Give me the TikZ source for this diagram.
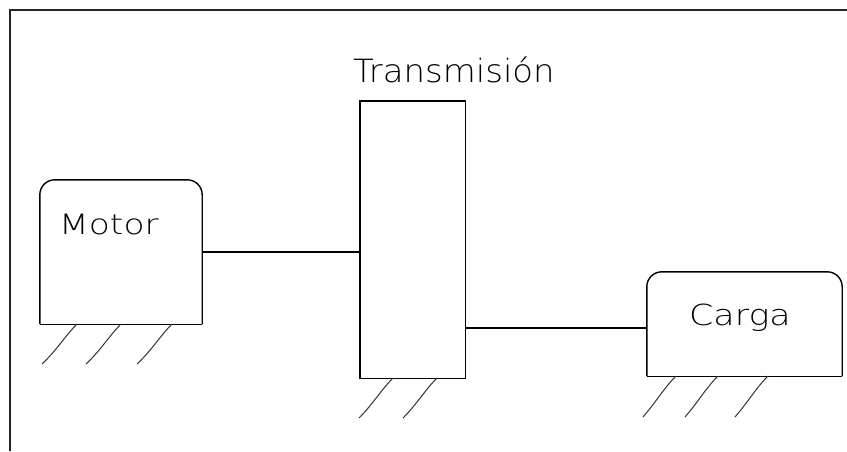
\documentclass[tikz,border=0pt]{standalone}
\usepackage{fontspec}
\setmainfont{DejaVu Sans}[UprightFont={* ExtraLight}]
\usetikzlibrary{calc}
\tikzset{
  frameline/.style={line width=1.2pt, draw=black!85},
  boxline/.style={line width=1.4pt, draw=black},
  hatch/.style={line width=1pt, draw=black!80},
  wire/.style={line width=1.3pt, draw=black},
  holder/.style={draw=none, rectangle, inner sep=0pt},
  lbl/.style={inner sep=0pt, anchor=base west, text=black}
}
\begin{document}
\begin{tikzpicture}[x=1pt, y=-1pt]
\useasboundingbox (0,0) rectangle (847,451);
% frame
\coordinate (ftr) at (847,10);
\coordinate (ftl) at (10,10);
\coordinate (fbl) at (10,451);
\draw[frameline] (ftr) -- (ftl) -- (fbl);
% boxes (invisible holders)
\node[holder, minimum width=162pt, minimum height=144pt] (motor) at (121,252) {};
\node[holder, minimum width=105pt, minimum height=277pt] (trans) at (412.5,239.5) {};
\node[holder, minimum width=195pt, minimum height=104pt] (carga) at (744.5,324) {};
% outlines
\draw[boxline, rounded corners=15pt] (motor.south west) -- (motor.north west) -- (motor.north east) -- (motor.south east);
\draw[boxline] (motor.south east) -- (motor.south west);
\draw[boxline] (trans.south west) rectangle (trans.north east);
\draw[boxline, rounded corners=15pt] (carga.south west) -- (carga.north west) -- (carga.north east) -- (carga.south east);
\draw[boxline] (carga.south east) -- (carga.south west);
% labels
\node[lbl, font=\fontsize{28}{30}\selectfont] (tmotor) at (59,234) {\scalebox{1.23}[1]{Motor}};
\node[lbl, font=\fontsize{32}{34}\selectfont] (ttrans) at (353,82) {\scalebox{1.06}[1]{Transmisión}};
\node[lbl, font=\fontsize{29}{31}\selectfont] (tcarga) at (689,325) {\scalebox{1.2}[1]{Carga}};
% connectors
\draw[wire] (motor.east) -- (motor.east -| trans.west);
\draw[wire] (trans.east |- 0,328) -- (carga.west |- 0,328);
% hatches motor
\foreach \x/\n in {77/a,121/b,172/c}{
  \coordinate (m\n1) at (\x,324);
  \coordinate (m\n2) at (\x-35,364);
  \draw[hatch] (m\n1) .. controls (\x-12,336) and (\x-20,350) .. (m\n2);
}
\foreach \x/\n in {393/a,437/b}{
  \coordinate (t\n1) at (\x,378);
  \coordinate (t\n2) at (\x-34,418);
  \draw[hatch] (t\n1) .. controls (\x-12,390) and (\x-20,404) .. (t\n2);
}
\foreach \x/\n in {676/a,718/b,768/c}{
  \coordinate (c\n1) at (\x,376);
  \coordinate (c\n2) at (\x-33,417);
  \draw[hatch] (c\n1) .. controls (\x-12,388) and (\x-20,402) .. (c\n2);
}
\end{tikzpicture}
\end{document}
